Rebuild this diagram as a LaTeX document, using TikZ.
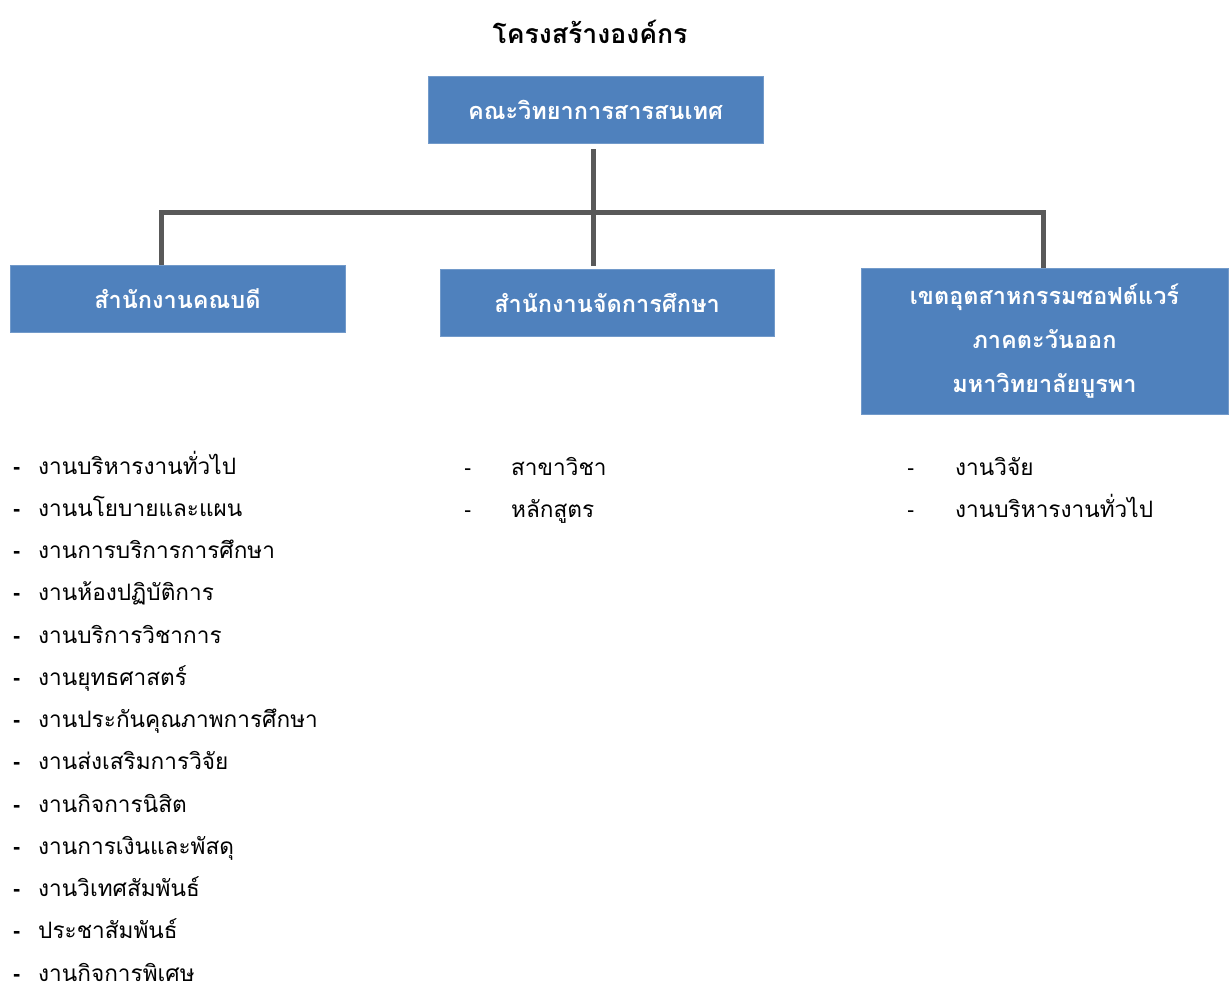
\documentclass[tikz,border=0pt]{standalone}
\usepackage{fontspec}
\newfontfamily\thaifont[Script=Thai]{Loma}
\newfontfamily\dashfont{Liberation Sans}
\definecolor{boxblue}{HTML}{4F81BD}
\definecolor{linegray}{HTML}{595959}
\begin{document}
\begin{tikzpicture}[x=1pt,y=-1pt,
  orgbox/.style={draw=boxblue!80!white, line width=0.8pt, fill=boxblue, text=white, align=center, inner sep=0pt,
     font=\thaifont\fontsize{23.5}{44}\selectfont\bfseries},
  conn/.style={draw=linegray, line width=5pt},
  item/.style={anchor=base west, inner sep=0pt, font=\thaifont\fontsize{22.6}{25}\selectfont},
  dashmark/.style={anchor=base west, inner sep=0pt, font=\dashfont\fontsize{22}{25}\selectfont}]
\useasboundingbox (0,0) rectangle (1232,990);
\node[font=\thaifont\fontsize{26.6}{30}\selectfont\bfseries] (title) at (590,32) {โครงสร้างองค์กร};
\node[orgbox, minimum width=335pt, minimum height=67pt] (top) at (595.5,109.5) {คณะวิทยาการสารสนเทศ};
\node[orgbox, minimum width=335pt, minimum height=67pt] (left) at (177.5,298.5) {สำนักงานคณบดี};
\node[orgbox, minimum width=334pt, minimum height=67pt] (mid) at (607,302.5) {สำนักงานจัดการศึกษา};
\node[orgbox, minimum width=367pt, minimum height=146pt] (right) at (1044.5,341) {เขตอุตสาหกรรมซอฟต์แวร์\\ภาคตะวันออก\\มหาวิทยาลัยบูรพา};
\coordinate (hl) at (161,212);
\coordinate (hr) at (1043,212);
\coordinate (tb) at (593,149);
\draw[conn] (tb) -- (593,266);
\draw[conn, line cap=butt] (hl |- left.north) -- (hl) -- (hr) -- (hr |- right.north);
% left list
\foreach \t [count=\i from 0] in {งานบริหารงานทั่วไป,งานนโยบายและแผน,งานการบริการการศึกษา,งานห้องปฏิบัติการ,งานบริการวิชาการ,งานยุทธศาสตร์,งานประกันคุณภาพการศึกษา,งานส่งเสริมการวิจัย,งานกิจการนิสิต,งานการเงินและพัสดุ,งานวิเทศสัมพันธ์,ประชาสัมพันธ์,งานกิจการพิเศษ}{
  \node[dashmark] (ld\i) at (13,{474+42.25*\i}) {\textbf{-}};
  \node[item] (li\i) at (38,{474+42.25*\i}) {\t};
}
\node[dashmark] (md0) at (464,475) {-};
\node[item] (mi0) at (511,475) {สาขาวิชา};
\node[dashmark] (md1) at (464,517) {-};
\node[item] (mi1) at (511,517) {หลักสูตร};
\node[dashmark] (rd0) at (907,475) {-};
\node[item] (ri0) at (955,475) {งานวิจัย};
\node[dashmark] (rd1) at (907,517) {-};
\node[item] (ri1) at (955,517) {งานบริหารงานทั่วไป};
\end{tikzpicture}
\end{document}
